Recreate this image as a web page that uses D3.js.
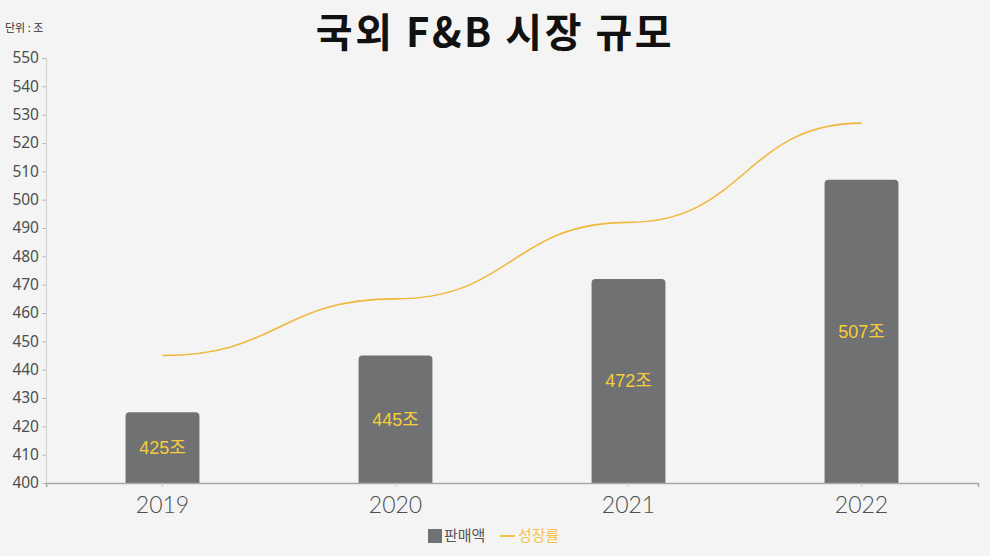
<!DOCTYPE html>
<html>
<head>
<meta charset="utf-8">
<script src="https://cdn.jsdelivr.net/npm/d3@7"></script>
<style>
  body { margin: 0; background: #f4f4f4; }
  svg { display: block; font-family: "Noto Sans CJK KR", "Noto Sans", sans-serif; }
</style>
</head>
<body>
<svg id="chart"></svg>
<script>
// chart data
var years = ["2019", "2020", "2021", "2022"];
var sales = [425, 445, 472, 507];      // 판매액 (조)
var growth = [445, 465, 492, 527];     // 성장률 line, plotted on same axis
var yTicks = [400, 410, 420, 430, 440, 450, 460, 470, 480, 490, 500, 510, 520, 530, 540, 550];

var W = 990, H = 556;
var margin = { top: 58, right: 12, bottom: 73, left: 46 },
  width = W - margin.left - margin.right,
  height = H - margin.top - margin.bottom;

var svg = d3.select("#chart")
  .attr("width", W)
  .attr("height", H);

svg.append("rect").attr("width", W).attr("height", H).attr("fill", "#f4f4f4");

// title + unit
svg.append("text")
  .attr("x", 495).attr("y", 47)
  .attr("text-anchor", "middle")
  .attr("font-size", 40).attr("font-weight", 700)
  .attr("letter-spacing", 2.5)
  .attr("fill", "#111")
  .text("국외 F&B 시장 규모");

svg.append("text")
  .attr("x", 5).attr("y", 32)
  .attr("font-size", 11).attr("fill", "#333")
  .text("단위 : 조");

var g = svg.append("g")
  .attr("transform", "translate(" + margin.left + "," + margin.top + ")");

// scales
var x = d3.scaleBand().domain(years).range([0, width]).padding(0);
var y = d3.scaleLinear().domain([400, 550]).range([height, 0]);
var barW = x.bandwidth() * 0.317;

// y axis
var yAxis = g.append("g")
  .call(d3.axisLeft(y).tickValues(yTicks).tickSize(4).tickPadding(3));
yAxis.select(".domain").attr("stroke", "#cfcfcf");
yAxis.selectAll(".tick line").attr("stroke", "#bbb");
yAxis.selectAll("text")
  .attr("fill", "#4a4f4f")
  .style("font-family", "'Noto Sans', sans-serif")
  .attr("font-size", 15.5);

// bars with rounded top corners
function barPath(d, i) {
  var x0 = x(years[i]) + x.bandwidth() / 2 - barW / 2,
    x1 = x0 + barW,
    yt = y(d), yb = y(400), r = 4;
  return "M" + x0 + "," + yb +
    "V" + (yt + r) +
    "Q" + x0 + "," + yt + " " + (x0 + r) + "," + yt +
    "H" + (x1 - r) +
    "Q" + x1 + "," + yt + " " + x1 + "," + (yt + r) +
    "V" + yb + "Z";
}

g.selectAll(".bar")
  .data(sales)
  .enter().append("path")
  .attr("class", "bar")
  .attr("d", barPath)
  .attr("fill", "#707172");

// value labels in the middle of each bar
g.selectAll(".val")
  .data(sales)
  .enter().append("text")
  .attr("class", "val")
  .attr("x", function (d, i) { return x(years[i]) + x.bandwidth() / 2; })
  .attr("y", function (d) { return (y(d) + y(400)) / 2; })
  .attr("dy", "0.35em")
  .attr("text-anchor", "middle")
  .style("font-family", "'Liberation Sans', 'Noto Sans CJK KR', sans-serif")
  .attr("font-size", 18)
  .attr("fill", "#f7cd3a")
  .text(function (d) { return d + "조"; });

// x axis
var xAxis = g.append("g")
  .attr("transform", "translate(0," + height + ")")
  .call(d3.axisBottom(x).tickSize(4).tickPadding(10));
xAxis.select(".domain").attr("stroke", "#a8a8a8").attr("stroke-width", 1.5);
xAxis.selectAll(".tick line").attr("stroke", "#ccc");
xAxis.selectAll("text")
  .attr("fill", "#4a4f4f")
  .style("font-family", "Lato, sans-serif")
  .attr("font-weight", 300)
  .attr("font-size", 23);

// growth line
var line = d3.line()
  .x(function (d, i) { return x(years[i]) + x.bandwidth() / 2; })
  .y(function (d) { return y(d); })
  .curve(d3.curveBumpX);

g.append("path")
  .datum(growth)
  .attr("fill", "none")
  .attr("stroke", "#f0b73a")
  .attr("stroke-width", 1.6)
  .attr("d", line);

// legend
var lg = svg.append("g").attr("transform", "translate(428,536)");
lg.append("rect").attr("x", 0).attr("y", -7).attr("width", 14).attr("height", 14).attr("fill", "#707172");
lg.append("text").attr("x", 16).attr("y", 0).attr("dy", "0.35em")
  .attr("font-size", 15).attr("fill", "#555").text("판매액");
lg.append("line").attr("x1", 72).attr("x2", 87).attr("y1", 0).attr("y2", 0)
  .attr("stroke", "#f5c24a").attr("stroke-width", 2);
lg.append("text").attr("x", 90).attr("y", 0).attr("dy", "0.35em")
  .attr("font-size", 15).attr("fill", "#f5c24a").text("성장률");
</script>
</body>
</html>
